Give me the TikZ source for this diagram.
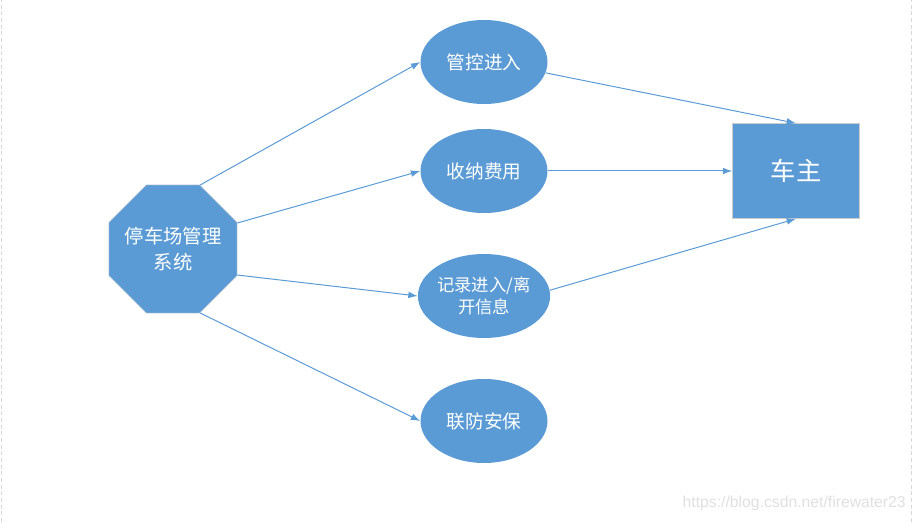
\documentclass[tikz,border=0pt]{standalone}
\usepackage{fontspec}
\setmainfont{Noto Sans CJK SC}
\newfontfamily\urlfont{Liberation Sans}
\usepackage{xcolor}
\usepackage{tikz}
\usetikzlibrary{positioning,shapes.geometric,arrows.meta}
\definecolor{boxblue}{HTML}{5B9BD5}
\definecolor{lineblue}{HTML}{5B9BD5}

\begin{document}
\begin{tikzpicture}[
x=0.75pt, y=0.75pt,
>={Latex[length=7pt,width=5pt]},
oct/.style={regular polygon, regular polygon sides=8, fill=boxblue, draw=gray!30, minimum size=100pt, inner sep=-2.2pt, text=white, align=center, font=\fontsize{14.5pt}{19.5pt}\selectfont},
task/.style={ellipse, fill=boxblue, minimum width=95.25pt, minimum height=63pt, inner sep=0pt, text=white, align=center, font=\fontsize{14pt}{17pt}\selectfont},
owner/.style={rectangle, fill=boxblue, draw=gray!40, minimum width=95.25pt, minimum height=71.25pt, text=white, font=\fontsize{19pt}{22pt}\selectfont},
link/.style={draw=lineblue, line width=0.75pt}
]
\useasboundingbox (0,0) rectangle (914,522);
\draw[gray!30, densely dashed] (1,0) -- (1,522);
\draw[gray!30, densely dashed] (911,0) -- (911,522);

\node[oct](system) at (173,273){停车场管理\\系统};

\node[task](control) at (484,460){管控进入};
\node[task](fee)[below of = control, node distance=81.75pt]{收纳费用};
\node[task, font=\fontsize{13pt}{17pt}\selectfont](record)[below of = fee, node distance=93.75pt]{记录进入/离\\开信息};
\node[task](security)[below of = record, node distance=93.75pt]{联防安保};

\node[owner](owner)[right of = fee, node distance=234pt]{车主};

\node[text=black!12, font=\urlfont\fontsize{11.8pt}{14pt}\selectfont, anchor=east, inner sep=0pt](url) at (906,19){https://blog.csdn.net/firewater23};

\draw[link, ->] (system.67.5) -- (control.west);
\draw[link, ->] (system.22.5) -- (fee.west);
\draw[link, ->] (system.-22.5) -- (record.west);
\draw[link, ->] (system.-67.5) -- (security.west);

\draw[link, ->] (control.-10) -- (owner.north);
\draw[link, ->] (fee.east) -- (owner.west);
\draw[link, ->] (record.5) -- (owner.south);

\end{tikzpicture}
\end{document}
